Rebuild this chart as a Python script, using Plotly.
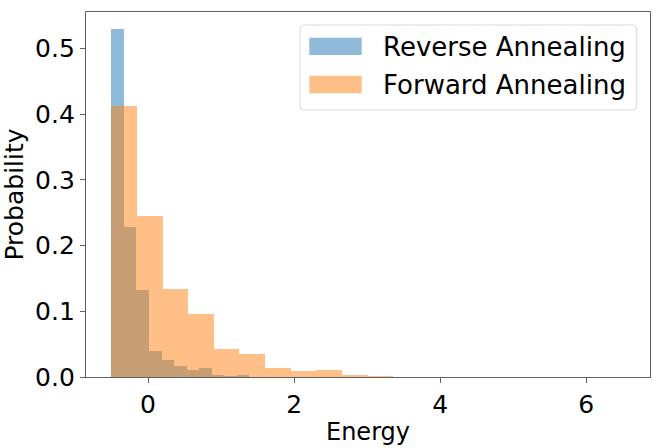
import plotly.graph_objects as go

# Histogram data (probability per bin)
bin_start = -0.503
reverse_bin_width = 0.1718
forward_bin_width = 0.351
reverse_probs = [0.529, 0.228, 0.132, 0.039, 0.0265, 0.016, 0.010, 0.0137, 0.0036, 0.0015, 0.0036]
forward_probs = [0.412, 0.2446, 0.1335, 0.0959, 0.0432, 0.0345, 0.0132, 0.0091, 0.0107, 0.0036, 0.002]
series_names = ["Reverse Annealing", "Forward Annealing"]
x_ticks = [0, 2, 4, 6]
y_ticks = [0.0, 0.1, 0.2, 0.3, 0.4, 0.5]

def centers(start, width, n):
    return [start + width * (i + 0.5) for i in range(n)]

FONT = "DejaVu Sans"
AX = "#606060"
BLUE = "rgba(31,119,180,0.5)"
ORANGE = "rgba(255,127,14,0.5)"

W, H = 667, 448
ML, MR, MT, MB = 86, 17, 12, 71
PW, PH = W - ML - MR, H - MT - MB

def px(x):
    return (x - ML) / PW

def py(y):
    return (H - MB - y) / PH

fig = go.Figure()
fig.add_trace(go.Bar(
    x=centers(bin_start, reverse_bin_width, len(reverse_probs)),
    y=reverse_probs, width=reverse_bin_width,
    name=series_names[0],
    marker=dict(color=BLUE, line=dict(width=0)),
))
fig.add_trace(go.Bar(
    x=centers(bin_start, forward_bin_width, len(forward_probs)),
    y=forward_probs, width=forward_bin_width,
    name=series_names[1],
    marker=dict(color=ORANGE, line=dict(width=0)),
))

# matplotlib-style legend box
bx0, bx1, by0, by1 = 300, 636.7, 25, 110
r = 4
rx, ry = r / PW, r / PH
X0, X1, Y0, Y1 = px(bx0), px(bx1), py(by1), py(by0)
path = (f"M{X0+rx},{Y0} L{X1-rx},{Y0} Q{X1},{Y0} {X1},{Y0+ry} "
        f"L{X1},{Y1-ry} Q{X1},{Y1} {X1-rx},{Y1} L{X0+rx},{Y1} "
        f"Q{X0},{Y1} {X0},{Y1-ry} L{X0},{Y0+ry} Q{X0},{Y0} {X0+rx},{Y0} Z")
shapes = [dict(type="path", path=path, xref="paper", yref="paper",
               fillcolor="rgba(255,255,255,0.8)", line=dict(color="#d8d8d8", width=1))]
annotations = []
rows = [(37.7, 55.0, 46.5, BLUE), (75.7, 93.3, 84.5, ORANGE)]
for name, (s0, s1, tc, col) in zip(series_names, rows):
    shapes.append(dict(type="rect", xref="paper", yref="paper",
                       x0=px(309.3), x1=px(361.7), y0=py(s1), y1=py(s0),
                       fillcolor=col, line=dict(width=0)))
    annotations.append(dict(text=name, xref="paper", yref="paper",
                            x=px(381), y=py(tc), xanchor="left", yanchor="middle",
                            showarrow=False,
                            font=dict(family=FONT, size=26, color="#000000")))

fig.update_layout(
    width=W, height=H,
    margin=dict(l=ML, r=MR, t=MT, b=MB),
    barmode="overlay", bargap=0,
    plot_bgcolor="white", paper_bgcolor="white",
    font=dict(family=FONT, size=25, color="#000000"),
    showlegend=False,
    shapes=shapes, annotations=annotations,
    xaxis=dict(
        range=[-0.85, 6.875], tickvals=x_ticks, ticktext=[str(v) for v in x_ticks],
        showline=True, linecolor=AX, linewidth=1.3, mirror=True,
        ticks="outside", ticklen=5, tickcolor=AX, tickwidth=1.3,
        showgrid=False, zeroline=False, automargin=False,
        title=dict(text="Energy", font=dict(family=FONT, size=24), standoff=5),
    ),
    yaxis=dict(
        range=[0, 0.5556], tickvals=y_ticks, ticktext=[f"{v:.1f}" for v in y_ticks],
        showline=True, linecolor=AX, linewidth=1.3, mirror=True,
        ticks="outside", ticklen=5, tickcolor=AX, tickwidth=1.3,
        showgrid=False, zeroline=False, automargin=False,
        title=dict(text="Probability", font=dict(family=FONT, size=25), standoff=7),
    ),
)

fig.write_html("out.html", config={"displayModeBar": False},
               post_script="document.body.style.margin='0px';")
